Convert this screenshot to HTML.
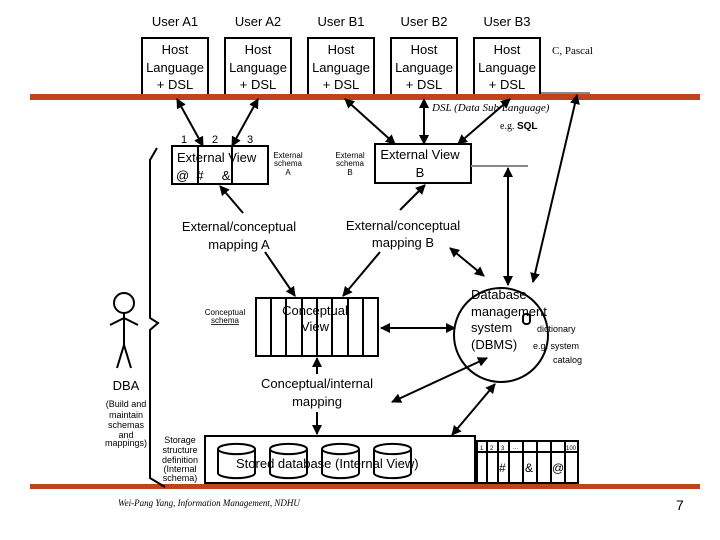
<!DOCTYPE html>
<html><head><meta charset="utf-8"><style>
body{margin:0;background:#fff}
svg{display:block}
text{font-family:"Liberation Sans",sans-serif;fill:#000}
</style></head><body>
<svg width="720" height="540" viewBox="0 0 720 540" xmlns="http://www.w3.org/2000/svg">
<defs>
<marker id="a" viewBox="0 0 10 10" refX="9" refY="5" markerWidth="5" markerHeight="5" orient="auto-start-reverse"><path d="M0,0L10,5L0,10z" fill="#000"/></marker>
</defs>
<g font-size="13" text-anchor="middle">
<text x="175" y="26">User A1</text><text x="258" y="26">User A2</text><text x="341" y="26">User B1</text><text x="424" y="26">User B2</text><text x="507" y="26">User B3</text>
</g>
<g fill="#fff" stroke="#000" stroke-width="2">
<rect x="142" y="38" width="66" height="58"/><rect x="225" y="38" width="66" height="58"/><rect x="308" y="38" width="66" height="58"/><rect x="391" y="38" width="66" height="58"/><rect x="474" y="38" width="66" height="58"/>
</g>
<g font-size="13" text-anchor="middle">
<text x="175" y="54">Host</text><text x="175" y="72">Language</text><text x="175" y="89">+ DSL</text>
<text x="258" y="54">Host</text><text x="258" y="72">Language</text><text x="258" y="89">+ DSL</text>
<text x="341" y="54">Host</text><text x="341" y="72">Language</text><text x="341" y="89">+ DSL</text>
<text x="424" y="54">Host</text><text x="424" y="72">Language</text><text x="424" y="89">+ DSL</text>
<text x="507" y="54">Host</text><text x="507" y="72">Language</text><text x="507" y="89">+ DSL</text>
</g>
<text x="552" y="54" font-size="11" style="font-family:'Liberation Serif',serif">C, Pascal</text>
<line x1="541" y1="93" x2="590" y2="93" stroke="#888" stroke-width="2"/>
<rect x="30" y="94" width="670" height="6" fill="#c0431f"/>
<text x="432" y="111" font-size="11" font-style="italic" style="font-family:'Liberation Serif',serif">DSL (Data Sub Language)</text>
<text x="500" y="129" font-size="10" style="font-family:'Liberation Serif',serif">e.g. <tspan font-weight="bold" style="font-family:'Liberation Sans',sans-serif">SQL</tspan></text>

<g font-size="11" text-anchor="middle"><text x="184" y="143">1</text><text x="215" y="143">2</text><text x="250" y="143">3</text></g>
<rect x="172" y="146" width="96" height="38" fill="#fff" stroke="#000" stroke-width="2"/>
<line x1="198" y1="146" x2="198" y2="184" stroke="#000" stroke-width="2"/>
<line x1="232" y1="146" x2="232" y2="184" stroke="#000" stroke-width="2"/>
<text x="177" y="162" font-size="13">External View</text>
<text x="176" y="180" font-size="13">@ &#160;#&#160;&#160;&#160;&#160;&#160;&amp;</text>
<g font-size="8" text-anchor="middle"><text x="288" y="158">External</text><text x="288" y="166">schema</text><text x="288" y="175">A</text>
<text x="350" y="158">External</text><text x="350" y="166">schema</text><text x="350" y="175">B</text></g>
<rect x="375" y="144" width="96" height="39" fill="#fff" stroke="#000" stroke-width="2"/>
<text x="420" y="159" font-size="13" text-anchor="middle">External View</text>
<text x="420" y="177" font-size="13" text-anchor="middle">B</text>
<line x1="471" y1="166" x2="528" y2="166" stroke="#888" stroke-width="2"/>

<g font-size="13" text-anchor="middle">
<text x="239" y="231">External/conceptual</text><text x="239" y="249">mapping A</text>
<text x="403" y="230">External/conceptual</text><text x="403" y="247">mapping B</text>
<text x="317" y="388">Conceptual/internal</text><text x="317" y="406">mapping</text>
</g>

<rect x="256" y="298" width="122" height="58" fill="#fff" stroke="#000" stroke-width="2"/>
<g stroke="#000" stroke-width="2"><line x1="271" y1="298" x2="271" y2="356"/><line x1="286" y1="298" x2="286" y2="356"/><line x1="302" y1="298" x2="302" y2="356"/><line x1="317" y1="298" x2="317" y2="356"/><line x1="332" y1="298" x2="332" y2="356"/><line x1="348" y1="298" x2="348" y2="356"/><line x1="363" y1="298" x2="363" y2="356"/></g>
<text x="315" y="315" font-size="13" text-anchor="middle">Conceptual</text>
<text x="315" y="331" font-size="13" text-anchor="middle">View</text>
<text x="225" y="315" font-size="8" text-anchor="middle">Conceptual</text>
<text x="225" y="323" font-size="8" text-anchor="middle" text-decoration="underline">schema</text>

<circle cx="501" cy="335" r="47" fill="none" stroke="#000" stroke-width="2"/>
<g font-size="13"><text x="471" y="299">Database</text><text x="471" y="316">management</text><text x="471" y="332">system</text><text x="471" y="349">(DBMS)</text></g>
<rect x="523" y="314" width="7" height="10" rx="3" fill="none" stroke="#000" stroke-width="2"/>
<text x="537" y="332" font-size="9">dictionary</text>
<text x="533" y="349" font-size="9">e.g. system</text>
<text x="553" y="363" font-size="9">catalog</text>

<rect x="205" y="436" width="270" height="47" fill="#fff" stroke="#000" stroke-width="2"/>
<g fill="#fff" stroke="#000" stroke-width="2">
<path d="M218,449 a18,5 0 0 1 37,0 v24 a18,5 0 0 1 -37,0z M218,449 a18,5 0 0 0 37,0"/>
<path d="M270,449 a18,5 0 0 1 37,0 v24 a18,5 0 0 1 -37,0z M270,449 a18,5 0 0 0 37,0"/>
<path d="M322,449 a18,5 0 0 1 37,0 v24 a18,5 0 0 1 -37,0z M322,449 a18,5 0 0 0 37,0"/>
<path d="M374,449 a18,5 0 0 1 37,0 v24 a18,5 0 0 1 -37,0z M374,449 a18,5 0 0 0 37,0"/>
</g>
<text x="236" y="468" font-size="13">Stored database (Internal View)</text>
<g fill="none" stroke="#000" stroke-width="2">
<rect x="477" y="441" width="101" height="42"/>
<line x1="477" y1="452" x2="578" y2="452"/>
<line x1="487" y1="441" x2="487" y2="483"/><line x1="498" y1="441" x2="498" y2="483"/><line x1="509" y1="441" x2="509" y2="483"/><line x1="523" y1="441" x2="523" y2="483"/><line x1="537" y1="441" x2="537" y2="483"/><line x1="551" y1="441" x2="551" y2="483"/><line x1="565" y1="441" x2="565" y2="483"/>
</g>
<g font-size="6"><text x="480" y="450">1</text><text x="490" y="450">2</text><text x="501" y="450">3</text><text x="513" y="449">...</text><text x="566" y="450">100</text></g>
<g font-size="12"><text x="499" y="472">#</text><text x="525" y="472">&amp;</text><text x="552" y="472">@</text></g>
<rect x="30" y="484" width="670" height="5" fill="#c0431f"/>

<g font-size="9" text-anchor="middle"><text x="180" y="443">Storage</text><text x="180" y="453">structure</text><text x="180" y="463">definition</text><text x="180" y="472">(Internal</text><text x="180" y="481">schema)</text></g>

<g fill="none" stroke="#000" stroke-width="2">
<circle cx="124" cy="303" r="10"/>
<line x1="124" y1="313" x2="124" y2="345"/>
<line x1="110" y1="325" x2="124" y2="318"/><line x1="138" y1="325" x2="124" y2="318"/>
<line x1="124" y1="345" x2="117" y2="368"/><line x1="124" y1="345" x2="131" y2="368"/>
<path d="M157,148 L150,160 L150,318 L158,323 L150,330 L150,478 L165,487"/>
</g>
<text x="126" y="390" font-size="13" text-anchor="middle">DBA</text>
<g font-size="9" text-anchor="middle"><text x="126" y="407">(Build and</text><text x="126" y="418">maintain</text><text x="126" y="428">schemas</text><text x="126" y="438">and</text><text x="126" y="446">mappings)</text></g>

<g stroke="#000" stroke-width="2" fill="none" marker-end="url(#a)" marker-start="url(#a)">
<line x1="177" y1="99" x2="203" y2="146"/>
<line x1="258" y1="99" x2="232" y2="146"/>
<line x1="345" y1="99" x2="395" y2="144"/>
<line x1="424" y1="99" x2="424" y2="144"/>
<line x1="510" y1="99" x2="458" y2="144"/>
<line x1="577" y1="95" x2="533" y2="282"/>
<line x1="508" y1="168" x2="508" y2="285"/>
<line x1="450" y1="248" x2="484" y2="276"/>
<line x1="381" y1="328" x2="455" y2="328"/>
<line x1="487" y1="358" x2="392" y2="402"/>
<line x1="495" y1="384" x2="452" y2="435"/>
</g>
<g stroke="#000" stroke-width="2" fill="none" marker-end="url(#a)">
<line x1="243" y1="213" x2="220" y2="186"/>
<line x1="400" y1="210" x2="425" y2="185"/>
<line x1="265" y1="252" x2="295" y2="296"/>
<line x1="380" y1="252" x2="343" y2="296"/>
<line x1="317" y1="374" x2="317" y2="358"/>
<line x1="317" y1="412" x2="317" y2="434"/>
</g>

<text x="118" y="506" font-size="9" font-style="italic" style="font-family:'Liberation Serif',serif">Wei-Pang Yang, Information Management, NDHU</text>
<text x="676" y="510" font-size="14">7</text>
</svg>
</body></html>
